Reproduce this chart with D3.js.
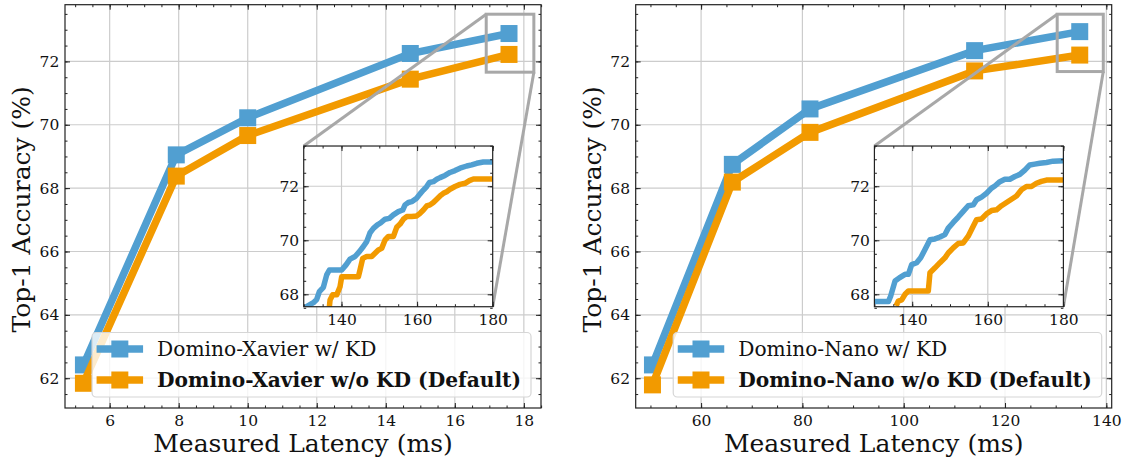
<!DOCTYPE html>
<html>
<head>
<meta charset="utf-8">
<script src="https://cdn.jsdelivr.net/npm/d3@7"></script>
<style>
  body { margin: 0; background: #fff; }
  svg { display: block; }
  text { font-family: "DejaVu Serif", serif; fill: #111; }
</style>
</head>
<body>
<svg id="fig" width="1130" height="464"></svg>
<script>
// ---- Main panels: latency vs top-1 accuracy ----
const xavierLatency = [5.24, 7.93, 10.0, 14.71, 17.57];
const xavierKD      = [62.42, 69.05, 70.22, 72.25, 72.88];
const xavierNoKD    = [61.84, 68.38, 69.66, 71.44, 72.22];

const nanoLatency = [50.4, 66.17, 81.5, 114.0, 134.75];
const nanoKD      = [62.42, 68.75, 70.50, 72.34, 72.94];
const nanoNoKD    = [61.79, 68.19, 69.76, 71.70, 72.20];

const accTicks = [62, 64, 66, 68, 70, 72];
const xavierTicks = [6, 8, 10, 12, 14, 16, 18];
const nanoTicks = [60, 80, 100, 120, 140];

// ---- Inset training curves: epoch vs top-1 accuracy ----
const xavierCurveKD = [
  [130, 67.48], [132.56, 67.69], [133.44, 67.81], [134.14, 68.10], [135.2, 68.26],
  [136.08, 68.72], [136.79, 68.90], [140.05, 68.90], [141.2, 69.09], [142.26, 69.30],
  [143.58, 69.40], [144.73, 69.58], [145.78, 69.77], [146.67, 69.95], [147.55, 70.28],
  [148.43, 70.44], [149.49, 70.57], [150.19, 70.63], [151.52, 70.78], [152.66, 70.81],
  [153.72, 70.94], [155.04, 71.06], [156.19, 71.12], [156.81, 71.31], [157.69, 71.40],
  [158.57, 71.43], [159.89, 71.56], [160.78, 71.72], [161.66, 71.86], [162.54, 71.99],
  [163.25, 72.14], [164.3, 72.17], [165.19, 72.26], [166.07, 72.32], [167.39, 72.40],
  [168.71, 72.51], [170.04, 72.58], [171.36, 72.67], [173.12, 72.75], [174.44, 72.79],
  [175.77, 72.85], [177.53, 72.90], [180, 72.90]
];
const xavierCurveNoKD = [
  [136.79, 67.54], [136.97, 67.79], [137.67, 67.98], [138.73, 67.98], [139.61, 68.28],
  [140.05, 68.65], [142.26, 68.65], [144.46, 68.65], [144.9, 68.90], [145.61, 69.33],
  [146.67, 69.40], [147.99, 69.40], [148.87, 69.52], [149.75, 69.64], [150.63, 69.70],
  [151.52, 70.01], [152.4, 70.14], [153.72, 70.14], [154.6, 70.48], [155.49, 70.60],
  [156.37, 70.78], [157.25, 70.88], [158.57, 70.88], [159.89, 70.90], [160.78, 71.00],
  [161.66, 71.12], [162.54, 71.27], [163.42, 71.31], [164.3, 71.40], [165.19, 71.52],
  [166.07, 71.64], [166.95, 71.74], [167.83, 71.80], [168.71, 71.89], [170.04, 71.99],
  [171.36, 72.07], [172.68, 72.11], [173.83, 72.21], [174.89, 72.27], [176.65, 72.27],
  [180, 72.27]
];
const nanoCurveKD = [
  [130, 67.73], [133.7, 67.73], [134.31, 67.94], [135.46, 68.49], [136.6, 68.61],
  [138.1, 68.74], [138.98, 68.74], [139.86, 69.10], [141.18, 69.17], [142.24, 69.35],
  [143.38, 69.66], [144.7, 70.02], [146.02, 70.05], [147.34, 70.12], [148.66, 70.21],
  [149.54, 70.45], [150.86, 70.66], [152.18, 70.86], [153.5, 71.07], [154.82, 71.28],
  [156.14, 71.31], [157.02, 71.50], [158.35, 71.60], [159.67, 71.74], [160.99, 71.93],
  [161.87, 72.01], [163.19, 72.17], [164.51, 72.26], [165.83, 72.26], [167.15, 72.36],
  [168.47, 72.44], [169.79, 72.60], [171.11, 72.79], [172.43, 72.82], [173.75, 72.85],
  [175.51, 72.88], [177.27, 72.93], [180, 72.94]
];
const nanoCurveNoKD = [
  [135.72, 67.57], [136.34, 67.75], [137.22, 67.79], [138.1, 68.0], [138.98, 68.12],
  [141.18, 68.12], [144.26, 68.12], [144.7, 68.80], [146.02, 68.98], [147.34, 69.17],
  [148.66, 69.35], [149.54, 69.53], [150.86, 69.72], [152.18, 69.88], [153.5, 69.90],
  [154.82, 70.15], [156.14, 70.52], [157.02, 70.76], [158.35, 70.79], [159.67, 70.98],
  [160.99, 71.10], [162.31, 71.13], [163.63, 71.28], [164.95, 71.40], [166.27, 71.52],
  [167.59, 71.64], [168.91, 71.87], [170.23, 71.99], [171.55, 71.99], [172.87, 72.11],
  [174.19, 72.18], [175.51, 72.23], [177.27, 72.23], [180, 72.23]
];
const insetXTicks = [140, 160, 180];
const insetYTicks = [68, 70, 72];

const BLUE = "#519fd1";
const ORANGE = "#f29a00";
const GRID = "#cccccc";
const ZOOM_GREY = "#a8a8a8";

const TICK_FS = 15.5;
const TITLE_FS = 25;
const LEGEND_FS = 20.2;

const svg = d3.select("#fig");
const defs = svg.append("defs");

const axisLabel = "Measured Latency (ms)";
const accLabel = "Top-1 Accuracy (%)";

function range(a, b, step) {
  const out = [];
  for (let v = a; v <= b + 1e-9; v += step) out.push(+v.toFixed(6));
  return out;
}

// Inward ticks on all four sides, minor and major
function drawTicks(g, x, y, w, h, xMajor, xMinor, yMajor, yMinor, fs, labelPadX, labelPadY) {
  const majLen = 5, minLen = 2.5;
  const fmt = d3.format("d");
  g.append("g").attr("transform", `translate(0,${h})`)
    .call(d3.axisBottom(x).tickValues(xMajor).tickSize(-majLen).tickPadding(labelPadX).tickFormat(fmt));
  g.append("g").attr("transform", `translate(0,${h})`)
    .call(d3.axisBottom(x).tickValues(xMinor).tickSize(-minLen).tickFormat(""));
  g.append("g").call(d3.axisTop(x).tickValues(xMajor).tickSize(-majLen).tickFormat(""));
  g.append("g").call(d3.axisTop(x).tickValues(xMinor).tickSize(-minLen).tickFormat(""));
  g.append("g")
    .call(d3.axisLeft(y).tickValues(yMajor).tickSize(-majLen).tickPadding(labelPadY).tickFormat(fmt));
  g.append("g").call(d3.axisLeft(y).tickValues(yMinor).tickSize(-minLen).tickFormat(""));
  g.append("g").attr("transform", `translate(${w},0)`)
    .call(d3.axisRight(y).tickValues(yMajor).tickSize(-majLen).tickFormat(""));
  g.append("g").attr("transform", `translate(${w},0)`)
    .call(d3.axisRight(y).tickValues(yMinor).tickSize(-minLen).tickFormat(""));
  g.selectAll(".domain").remove();
  g.selectAll(".tick line").attr("stroke", "#222").attr("stroke-width", 1);
  g.selectAll(".tick text").attr("font-family", "DejaVu Serif").attr("font-size", fs).attr("fill", "#111");
}

function drawPanel(cfg) {
  const w = 476, h = 403.3;
  const g = svg.append("g").attr("transform", `translate(${cfg.left},${cfg.top})`);
  const x = d3.scaleLinear().domain(cfg.xDomain).range([0, w]);
  const y = d3.scaleLinear().domain([61.06, 73.79]).range([h, 0]);

  // grid
  const grid = g.append("g");
  grid.selectAll("line.vx").data(cfg.xTicks).join("line")
    .attr("x1", d => x(d)).attr("x2", d => x(d)).attr("y1", 0).attr("y2", h)
    .attr("stroke", GRID).attr("stroke-width", 1.2);
  grid.selectAll("line.hy").data(accTicks).join("line")
    .attr("x1", 0).attr("x2", w).attr("y1", d => y(d)).attr("y2", d => y(d))
    .attr("stroke", GRID).attr("stroke-width", 1.2);

  // series
  const series = [
    { vals: cfg.kd, color: BLUE },
    { vals: cfg.noKd, color: ORANGE }
  ];
  const line = d3.line().x(d => x(d[0])).y(d => y(d[1]));
  const ms = 17;
  series.forEach(s => {
    const pts = cfg.latency.map((lat, i) => [lat, s.vals[i]]);
    g.append("path").datum(pts).attr("d", line)
      .attr("fill", "none").attr("stroke", s.color).attr("stroke-width", 7.5)
      .attr("stroke-linejoin", "miter");
    g.selectAll(null).data(pts).join("rect")
      .attr("x", d => x(d[0]) - ms / 2).attr("y", d => y(d[1]) - ms / 2)
      .attr("width", ms).attr("height", ms).attr("fill", s.color);
  });

  // ticks and labels
  drawTicks(g, x, y, w, h, cfg.xTicks, cfg.xMinor, accTicks, range(61.5, 73.5, 0.5), TICK_FS, 7, 5.7);

  // frame
  g.append("rect").attr("x", 0).attr("y", 0).attr("width", w).attr("height", h)
    .attr("fill", "none").attr("stroke", "#222").attr("stroke-width", 1.2);

  // axis titles
  g.append("text").attr("x", w / 2).attr("y", 452 - cfg.top)
    .attr("text-anchor", "middle").attr("font-size", TITLE_FS).text(axisLabel);
  g.append("text").attr("transform", `translate(${cfg.yLabelX - cfg.left},${h / 2 + 3}) rotate(-90)`)
    .attr("text-anchor", "middle").attr("dy", "0.35em").attr("font-size", TITLE_FS).text(accLabel);

  // zoom box and connectors
  const ix0 = w * 0.5015, iw = w * 0.397, iy0 = h * 0.3504, ih = h * 0.3985;
  const bx0 = x(cfg.box[0]), bx1 = x(cfg.box[1]), by0 = y(cfg.box[3]), by1 = y(cfg.box[2]);
  const zg = g.append("g").attr("stroke", ZOOM_GREY).attr("stroke-width", 3).attr("fill", "none");
  zg.append("rect").attr("x", bx0).attr("y", by0).attr("width", bx1 - bx0).attr("height", by1 - by0);
  zg.append("line").attr("x1", bx0).attr("y1", by0).attr("x2", ix0).attr("y2", iy0);
  zg.append("line").attr("x1", bx1).attr("y1", by1).attr("x2", ix0 + iw).attr("y2", iy0 + ih);

  // legend
  const lg = g.append("g");
  const box = lg.append("rect");
  const rowY = [h - 11 - 48, h - 11 - 17];
  const labels = [
    { text: cfg.names[0], weight: "normal", color: BLUE },
    { text: cfg.names[1], weight: "bold", color: ORANGE }
  ];
  const texts = labels.map((l, i) => lg.append("text").attr("y", rowY[i]).attr("dy", "0.35em")
    .attr("font-size", LEGEND_FS).attr("font-weight", l.weight).text(l.text));
  const tw = d3.max(texts, t => t.node().getComputedTextLength());
  const boxRight = w - 10;
  const textX = boxRight - 10 - tw;
  const boxLeft = textX - 65;
  texts.forEach(t => t.attr("x", textX));
  box.attr("x", boxLeft).attr("y", h - 11 - 64.5).attr("width", boxRight - boxLeft).attr("height", 64.5)
    .attr("rx", 4).attr("fill", "#fff").attr("fill-opacity", 0.8)
    .attr("stroke", "#d6d6d6").attr("stroke-width", 1.2);
  labels.forEach((l, i) => {
    lg.append("line").attr("x1", boxLeft + 4.5).attr("x2", boxLeft + 51)
      .attr("y1", rowY[i]).attr("y2", rowY[i]).attr("stroke", l.color).attr("stroke-width", 7.5);
    lg.append("rect").attr("x", boxLeft + 27.75 - ms / 2).attr("y", rowY[i] - ms / 2)
      .attr("width", ms).attr("height", ms).attr("fill", l.color);
  });

  // inset
  const ig = g.append("g").attr("transform", `translate(${ix0},${iy0})`);
  const ixs = d3.scaleLinear().domain([130, 180]).range([0, iw]);
  const iys = d3.scaleLinear().domain([67.54, 73.49]).range([ih, 0]);
  ig.append("rect").attr("width", iw).attr("height", ih).attr("fill", "#fff");
  ig.selectAll("line.gx").data([140, 160]).join("line")
    .attr("x1", d => ixs(d)).attr("x2", d => ixs(d)).attr("y1", 0).attr("y2", ih)
    .attr("stroke", GRID).attr("stroke-width", 1.2);
  ig.selectAll("line.gy").data(insetYTicks).join("line")
    .attr("x1", 0).attr("x2", iw).attr("y1", d => iys(d)).attr("y2", d => iys(d))
    .attr("stroke", GRID).attr("stroke-width", 1.2);
  const clipId = "clip-" + cfg.id;
  defs.append("clipPath").attr("id", clipId).append("rect").attr("width", iw).attr("height", ih);
  const iline = d3.line().x(d => ixs(d[0])).y(d => iys(d[1]));
  [[cfg.curveKD, BLUE], [cfg.curveNoKD, ORANGE]].forEach(([pts, color]) => {
    ig.append("path").datum(pts).attr("d", iline).attr("clip-path", `url(#${clipId})`)
      .attr("fill", "none").attr("stroke", color).attr("stroke-width", 5.5)
      .attr("stroke-linejoin", "round");
  });
  drawTicks(ig, ixs, iys, iw, ih, insetXTicks, range(130, 180, 5), insetYTicks, range(67.5, 73.5, 0.5), TICK_FS, 7, 4.5);
  ig.append("rect").attr("width", iw).attr("height", ih)
    .attr("fill", "none").attr("stroke", "#222").attr("stroke-width", 1.2);
}

drawPanel({
  id: "xavier", left: 65, top: 4.7, yLabelX: 21,
  xDomain: [4.706, 18.497], xTicks: xavierTicks, xMinor: range(5, 18.5, 0.5),
  latency: xavierLatency, kd: xavierKD, noKd: xavierNoKD,
  box: [16.91, 18.29, 71.66, 73.49],
  names: ["Domino-Xavier w/ KD", "Domino-Xavier w/o KD (Default)"],
  curveKD: xavierCurveKD, curveNoKD: xavierCurveNoKD
});
drawPanel({
  id: "nano", left: 635.7, top: 4.7, yLabelX: 592,
  xDomain: [47.09, 141.06], xTicks: nanoTicks, xMinor: range(50, 140, 5),
  latency: nanoLatency, kd: nanoKD, noKd: nanoNoKD,
  box: [130.3, 139.4, 71.68, 73.49],
  names: ["Domino-Nano w/ KD", "Domino-Nano w/o KD (Default)"],
  curveKD: nanoCurveKD, curveNoKD: nanoCurveNoKD
});
</script>
</body>
</html>
